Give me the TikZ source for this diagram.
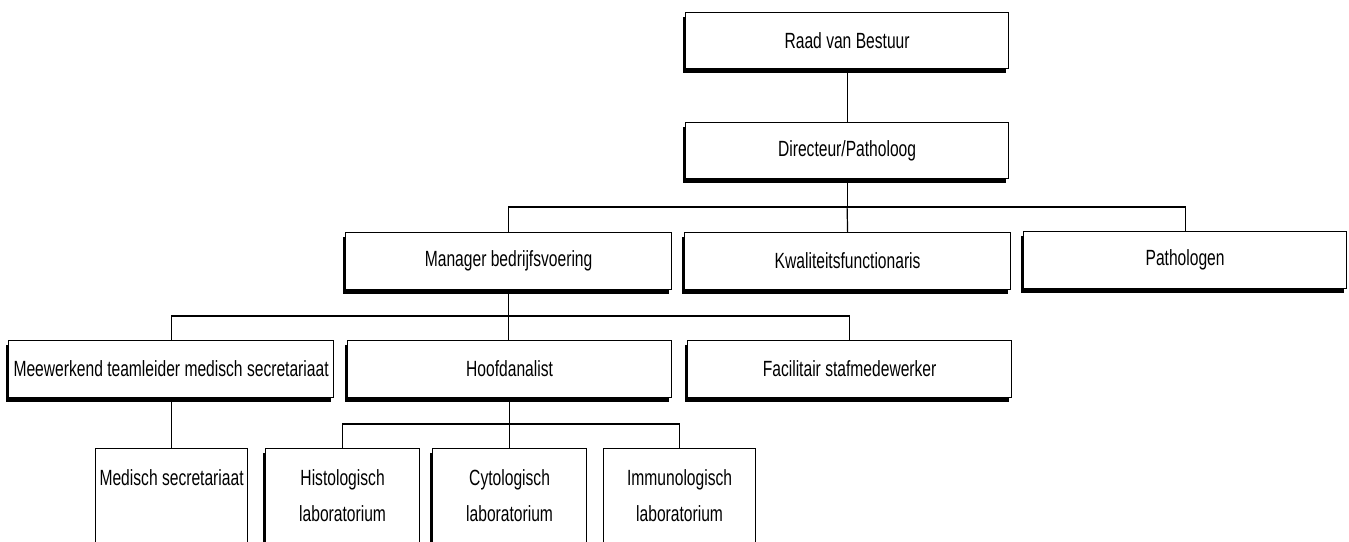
\documentclass[tikz,border=0pt]{standalone}
\usepackage{fontspec}
\setmainfont[FakeStretch=0.71]{Liberation Sans}
\usetikzlibrary{shadows}
\begin{document}
\begin{tikzpicture}[x=1pt,y=-1pt,
  box/.style={draw=black, fill=white, line width=1.2pt, inner sep=0pt, anchor=north west,
    font=\fontsize{22pt}{36pt}\selectfont,
    drop shadow={shadow xshift=-3pt, shadow yshift=-4pt, fill=black, opacity=1}},
  flatbox/.style={draw=black, fill=white, line width=1.2pt, inner sep=0pt, anchor=north west,
    font=\fontsize{22pt}{36pt}\selectfont},
  link/.style={draw=black, line width=1.2pt}]
\useasboundingbox (0,0) rectangle (1349,541);
\clip (0,0) rectangle (1349,541);
\fill[white] (0,0) rectangle (1349,541);

% level 1 and 2
\node[box, minimum width=323pt, minimum height=56pt] (raad) at (685,12) {Raad van Bestuur};
\node[box, minimum width=323pt, minimum height=56pt] (dir) at (685,122) {Directeur/Patholoog};

% level 3
\node[box, minimum width=326pt, minimum height=57pt] (man) at (345,232) {Manager bedrijfsvoering};
\node[box, minimum width=326pt, minimum height=57pt] (kwal) at (684,232) {Kwaliteitsfunctionaris};
\node[box, minimum width=323pt, minimum height=57pt] (path) at (1023,231) {Pathologen};

% level 4
\node[box, minimum width=325pt, minimum height=57pt] (meew) at (8,340) {Meewerkend teamleider medisch secretariaat};
\node[box, minimum width=324pt, minimum height=57pt] (hoofd) at (347,340) {Hoofdanalist};
\node[box, minimum width=324pt, minimum height=57pt] (fac) at (687,340) {Facilitair stafmedewerker};

% level 5
\node[flatbox] (med) at (95,448) {\parbox[c][130pt][t]{152pt}{\centering\vspace*{21pt}Medisch secretariaat}};
\node[box] (histo) at (265,448) {\parbox[c][130pt][t]{154pt}{\centering\vspace*{21pt}Histologisch\\laboratorium}};
\node[box] (cyto) at (432,448) {\parbox[c][130pt][t]{154pt}{\centering\vspace*{21pt}Cytologisch\\laboratorium}};
\node[flatbox] (immu) at (603,448) {\parbox[c][130pt][t]{152pt}{\centering\vspace*{21pt}Immunologisch\\laboratorium}};

% connectors
\coordinate (bus2) at (846,207);
\coordinate (bus3) at (508,316);
\coordinate (bus4) at (509,424);

\draw[link] (raad.south) -- (dir.north);
\draw[link] (dir.south) -- (dir.south |- bus2);
\draw[link] (man.north) |- (bus2) -| (path.north);
\draw[link] (dir.south |- bus2) -- (kwal.north);

\draw[link] (man.south) -- (man.south |- bus3);
\draw[link] (meew.north) |- (bus3) -| (fac.north);
\draw[link] (man.south |- bus3) -- (man.south |- hoofd.north);

\draw[link] (meew.south) -- (meew.south |- med.north);
\draw[link] (hoofd.south) -- (hoofd.south |- cyto.north);
\draw[link] (histo.north) |- (bus4) -| (immu.north);
\end{tikzpicture}
\end{document}
